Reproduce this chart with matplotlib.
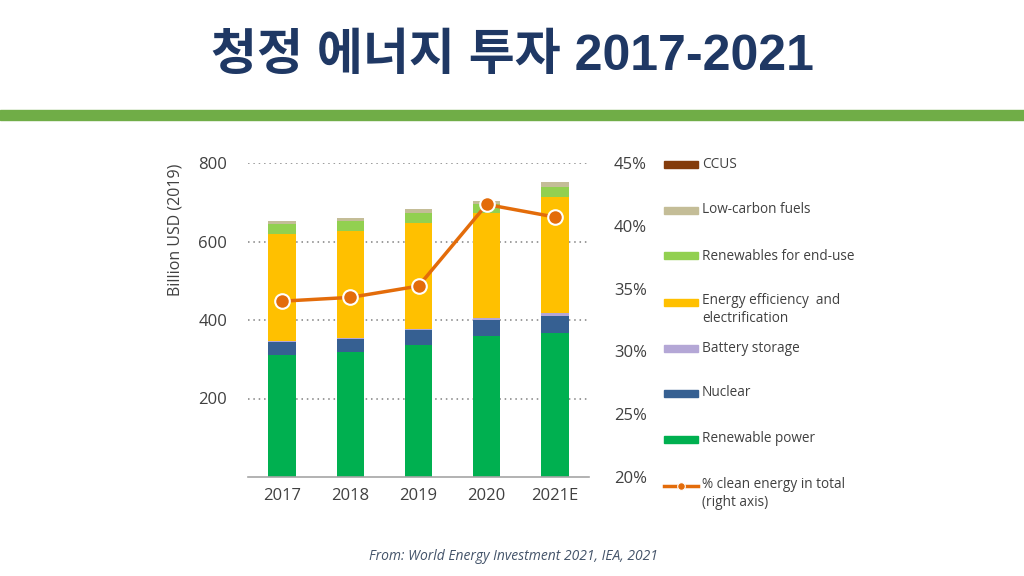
import matplotlib
matplotlib.use("Agg")
import matplotlib.pyplot as plt
import numpy as np
from matplotlib.patches import Rectangle
from matplotlib.lines import Line2D

# ---- data ----
years = ["2017", "2018", "2019", "2020", "2021E"]
renewable_power = [311, 319, 336, 359, 368]
nuclear = [32, 32, 38, 42, 43]
battery_storage = [4, 4, 4, 5, 7]
energy_efficiency = [271, 271, 270, 267, 296]
renewables_end_use = [27, 25, 25, 22, 24]
low_carbon_fuels = [8, 9, 9, 8, 14]
ccus = [0.5, 0.5, 0.5, 0.5, 0.8]
clean_share = [34.0, 34.3, 35.2, 41.7, 40.7]

left_ticks = [200, 400, 600, 800]
right_ticks = [20, 25, 30, 35, 40, 45]

series = [
    ("Renewable power", renewable_power, "#00B050"),
    ("Nuclear", nuclear, "#366092"),
    ("Battery storage", battery_storage, "#B4A7D6"),
    ("Energy efficiency  and\nelectrification", energy_efficiency, "#FFC000"),
    ("Renewables for end-use", renewables_end_use, "#92D050"),
    ("Low-carbon fuels", low_carbon_fuels, "#C4BD97"),
    ("CCUS", ccus, "#843C0C"),
]
line_color = "#E36C0A"
txt = "#404040"
latin = ["Open Sans", "DejaVu Sans"]

fig = plt.figure(figsize=(10.24, 5.76), dpi=100)
fig.patch.set_facecolor("white")

# title and band
fig.text(0.5, 1 - 57 / 576, "청정 에너지 투자 2017-2021", ha="center", va="center",
         fontsize=36, fontweight="bold", color="#1F3864",
         family=["Liberation Sans", "Noto Sans CJK KR", "DejaVu Sans"])
fig.patches.append(Rectangle((0, 1 - 120 / 576), 1, 9.5 / 576, transform=fig.transFigure,
                             color="#70AD47", zorder=0))

ax = fig.add_axes([248 / 1024, 1 - 477 / 576, (589 - 248) / 1024, (477 - 163) / 576])
x = np.arange(len(years))
bottom = np.zeros(len(years))
for name, vals, col in series:
    ax.bar(x, vals, width=0.4, bottom=bottom, color=col, zorder=2)
    bottom += np.array(vals)

ax.set_xlim(-0.5, 4.5)
ax.set_ylim(0, 800)
ax.set_yticks(left_ticks)
ax.set_xticks(x)
ax.set_xticklabels(years)
ax.tick_params(axis="both", length=0, labelsize=12, labelcolor=txt)
ax.tick_params(axis="y", pad=15)
ax.tick_params(axis="x", pad=8)
for lab in ax.get_xticklabels() + ax.get_yticklabels():
    lab.set_family(latin)
ax.yaxis.grid(True, linestyle=(0, (1, 2.5)), color="#808080", linewidth=1.1, zorder=0)
for s in ["top", "left", "right"]:
    ax.spines[s].set_visible(False)
ax.spines["bottom"].set_color("#A6A6A6")
ax.spines["bottom"].set_linewidth(1.2)
ax.set_ylabel("Billion USD (2019)", fontsize=11.5, color=txt, family=latin)
ax.yaxis.set_label_coords(-(248 - 183) / 341, (477 - 230) / 314)

ax2 = ax.twinx()
ax2.plot(x, clean_share, color=line_color, linewidth=2.5, marker="o", markersize=10.5,
         markerfacecolor=line_color, markeredgecolor="white", markeredgewidth=1.5, zorder=5)
ax2.set_ylim(20, 45)
ax2.set_yticks(right_ticks)
ax2.set_yticklabels([f"{t}%" for t in right_ticks])
ax2.tick_params(axis="y", length=0, labelsize=12, labelcolor=txt, pad=18)
for lab in ax2.get_yticklabels():
    lab.set_family(latin)
for s in ["top", "left", "right", "bottom"]:
    ax2.spines[s].set_visible(False)

# legend (custom, figure coordinates)
legend_items = [
    ("CCUS", "#843C0C", 164),
    ("Low-carbon fuels", "#C4BD97", 210),
    ("Renewables for end-use", "#92D050", 256),
    ("Energy efficiency  and\nelectrification", "#FFC000", 302),
    ("Battery storage", "#B4A7D6", 348),
    ("Nuclear", "#366092", 393),
    ("Renewable power", "#00B050", 439),
]
for label, col, ypx in legend_items:
    fig.patches.append(Rectangle((664 / 1024, 1 - (ypx + 3.5) / 576), 34 / 1024, 7 / 576,
                                 transform=fig.transFigure, color=col))
    if "\n" in label:
        fig.text(702 / 1024, 1 - (ypx - 9) / 576, label, ha="left", va="top",
                 fontsize=9.8, color=txt, family=latin, linespacing=1.25)
    else:
        fig.text(702 / 1024, 1 - ypx / 576, label, ha="left", va="center",
                 fontsize=9.8, color=txt, family=latin)

fig.lines.append(Line2D([664 / 1024, 698 / 1024], [1 - 486 / 576, 1 - 486 / 576],
                        transform=fig.transFigure, color=line_color, linewidth=2.5))
fig.lines.append(Line2D([681 / 1024], [1 - 486 / 576], transform=fig.transFigure,
                        color=line_color, marker="o", markersize=5.5, linestyle="none",
                        markeredgecolor="white", markeredgewidth=0.8))
fig.text(702 / 1024, 1 - 477 / 576, "% clean energy in total\n(right axis)", ha="left", va="top",
         fontsize=9.8, color=txt, family=latin, linespacing=1.25)

fig.text(513 / 1024, 1 - 556 / 576, "From: World Energy Investment 2021, IEA, 2021",
         ha="center", va="center", fontsize=10, style="italic", color="#44546A",
         family=latin)

fig.savefig("out.png", dpi=100)
